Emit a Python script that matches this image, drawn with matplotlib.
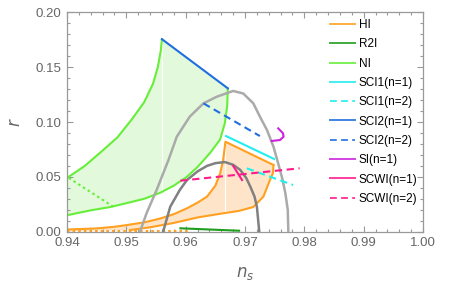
import matplotlib
matplotlib.use("Agg")
import matplotlib.pyplot as plt
from matplotlib.ticker import MultipleLocator, FormatStrFormatter
import numpy as np

plt.rcParams['font.family'] = ['Liberation Sans', 'DejaVu Sans']

# --- данные ---
# NI (зелёная область)
ni_up_x = [0.9400, 0.9430, 0.9460, 0.9485, 0.9510, 0.9530, 0.9545, 0.9553, 0.9558, 0.9560]
ni_up_y = [0.0490, 0.0600, 0.0740, 0.0860, 0.1030, 0.1180, 0.1350, 0.1500, 0.1650, 0.1755]
ni_lo_x = [0.9671, 0.9670, 0.9666, 0.9658, 0.9641, 0.9620, 0.9602, 0.9580, 0.9557, 0.9530, 0.9500, 0.9473, 0.9440, 0.9400]
ni_lo_y = [0.1307, 0.1150, 0.0990, 0.0840, 0.0717, 0.0590, 0.0500, 0.0420, 0.0355, 0.0300, 0.0260, 0.0225, 0.0195, 0.0150]
ni_dot_x = [0.9403, 0.9478]
ni_dot_y = [0.0490, 0.0228]

# HI (оранжевая область)
hi_left_x = [0.9400, 0.9450, 0.9480, 0.9500, 0.9530, 0.9557, 0.9580, 0.9602, 0.9620, 0.9636, 0.9650, 0.9658, 0.9663, 0.9667]
hi_left_y = [0.0020, 0.0030, 0.0045, 0.0060, 0.0085, 0.0120, 0.0160, 0.0213, 0.0265, 0.0320, 0.0420, 0.0530, 0.0650, 0.0820]
hi_right_x = [0.9748, 0.9747, 0.9742, 0.9731, 0.9714, 0.9690, 0.9660, 0.9620, 0.9580, 0.9540, 0.9506]
hi_right_y = [0.0608, 0.0532, 0.0471, 0.0320, 0.0225, 0.0190, 0.0165, 0.0130, 0.0080, 0.0040, 0.0015]
hi_dot_x = [0.9400, 0.9607]
hi_dot_y = [0.0005, 0.0005]

# контуры Planck
gray1_x = [0.9523, 0.9534, 0.9551, 0.9571, 0.9585, 0.9607, 0.9630, 0.9652, 0.9680, 0.9697, 0.9714, 0.9725, 0.9737, 0.9748, 0.9756, 0.9763, 0.9768, 0.9772, 0.9773]
gray1_y = [0.0000, 0.0168, 0.0380, 0.0654, 0.0866, 0.1050, 0.1170, 0.1230, 0.1283, 0.1260, 0.1170, 0.1050, 0.0927, 0.0775, 0.0620, 0.0480, 0.0350, 0.0200, 0.0000]
gray2_x = [0.9562, 0.9574, 0.9590, 0.9602, 0.9620, 0.9636, 0.9650, 0.9666, 0.9680, 0.9692, 0.9702, 0.9709, 0.9716, 0.9720, 0.9724]
gray2_y = [0.0000, 0.0228, 0.0380, 0.0470, 0.0550, 0.0600, 0.0625, 0.0635, 0.0610, 0.0563, 0.0490, 0.0410, 0.0320, 0.0228, 0.0000]

# отдельные модели
r2i_x = [0.9591, 0.9690]
r2i_y = [0.0031, 0.0009]
sci1_n1_x = [0.9668, 0.9749]
sci1_n1_y = [0.0872, 0.0663]
sci1_n2_x = [0.9703, 0.9781]
sci1_n2_y = [0.0578, 0.0426]
sci2_n1_x = [0.9560, 0.9671]
sci2_n1_y = [0.1755, 0.1307]
sci2_n2_x = [0.9630, 0.9725]
sci2_n2_y = [0.1170, 0.0872]
si_x = [0.9756, 0.9764, 0.9765, 0.9759, 0.9745]
si_y = [0.0942, 0.0897, 0.0866, 0.0836, 0.0827]
scwi_n1_x = [0.9680, 0.9695]
scwi_n1_y = [0.0600, 0.0471]
scwi_n2_x = [0.9591, 0.9792]
scwi_n2_y = [0.0465, 0.0578]

# белые артефакты заливки
artifact_x = [0.9560, 0.9667, 0.9750]
artifact_y0 = [0.034, 0.012, 0.020]
artifact_y1 = [0.174, 0.081, 0.060]

c_hi = '#ffa020'
c_r2i = '#1e9e1e'
c_ni = '#66ee3a'
c_cyan = '#22eeee'
c_blue = '#1f6fe0'
c_si = '#cc22dd'
c_scwi = '#ff1a8c'

fig = plt.figure(figsize=(4.66, 2.96), dpi=100)
ax = fig.add_axes([0.1438, 0.2172, 0.7640, 0.7412])

# заливка NI
px = list(ni_up_x) + list(ni_lo_x)
py = list(ni_up_y) + list(ni_lo_y)
ax.fill(px, py, color='#e2fadb', lw=0, zorder=1)
# заливка HI
hx = list(hi_left_x) + list(hi_right_x) + [0.9400]
hy = list(hi_left_y) + list(hi_right_y) + [0.0005]
ax.fill(hx, hy, color='#fee5c9', lw=0, zorder=1)

for x, y0, y1 in zip(artifact_x, artifact_y0, artifact_y1):
    ax.plot([x, x], [y0, y1], color='white', lw=0.8, zorder=1.5)

lw = 1.5
ax.plot(ni_up_x, ni_up_y, color=c_ni, lw=lw, zorder=2)
ax.plot(ni_lo_x, ni_lo_y, color=c_ni, lw=lw, zorder=2)
ax.plot(ni_dot_x, ni_dot_y, color=c_ni, lw=lw, ls=(0, (1.2, 1.5)), zorder=2)

ax.plot(hi_left_x + [hi_right_x[0]], hi_left_y + [hi_right_y[0]], color=c_hi, lw=lw, zorder=2)
ax.plot(hi_right_x, hi_right_y, color=c_hi, lw=lw, zorder=2)
ax.plot(hi_dot_x, hi_dot_y, color=c_hi, lw=lw, ls=(0, (1.2, 1.5)), zorder=2, clip_on=False)

ax.plot(gray1_x, gray1_y, color='#aaaaaa', lw=1.8, zorder=3)
ax.plot(gray2_x, gray2_y, color='#808080', lw=1.8, zorder=3)

dash = (0, (3.5, 2.2))
ax.plot(r2i_x, r2i_y, color=c_r2i, lw=lw, zorder=4)
ax.plot(sci1_n1_x, sci1_n1_y, color=c_cyan, lw=lw, zorder=4)
ax.plot(sci1_n2_x, sci1_n2_y, color=c_cyan, lw=lw, ls=dash, zorder=4)
ax.plot(sci2_n1_x, sci2_n1_y, color=c_blue, lw=lw, zorder=4)
ax.plot(sci2_n2_x, sci2_n2_y, color=c_blue, lw=lw, ls=dash, zorder=4)
ax.plot(si_x, si_y, color=c_si, lw=lw, zorder=4)
ax.plot(scwi_n1_x, scwi_n1_y, color=c_scwi, lw=lw, zorder=4)
ax.plot(scwi_n2_x, scwi_n2_y, color=c_scwi, lw=lw, ls=dash, zorder=4)

# легенда
labels = ['HI', 'R2I', 'NI', 'SCI1(n=1)', 'SCI1(n=2)', 'SCI2(n=1)', 'SCI2(n=2)',
          'SI(n=1)', 'SCWI(n=1)', 'SCWI(n=2)']
colors = [c_hi, c_r2i, c_ni, c_cyan, c_cyan, c_blue, c_blue, c_si, c_scwi, c_scwi]
styles = ['-', '-', '-', '-', dash, '-', dash, '-', '-', dash]
handles = [plt.Line2D([], [], color=c, ls=s, lw=1.4, alpha=0.85) for c, s in zip(colors, styles)]
fig.legend(handles, labels, loc='upper left', bbox_to_anchor=(330 / 466, 1 - 19 / 296),
           frameon=False, fontsize=8.5, handlelength=2.1, handletextpad=0.35,
           labelspacing=0.62, borderpad=0, borderaxespad=0)

ax.set_xlim(0.94, 1.00)
ax.set_ylim(0.0, 0.20)
ax.xaxis.set_major_locator(MultipleLocator(0.01))
ax.xaxis.set_minor_locator(MultipleLocator(0.002))
ax.yaxis.set_major_locator(MultipleLocator(0.05))
ax.yaxis.set_minor_locator(MultipleLocator(0.01))
ax.xaxis.set_major_formatter(FormatStrFormatter('%.2f'))
ax.yaxis.set_major_formatter(FormatStrFormatter('%.2f'))
ax.tick_params(which='both', direction='in', top=True, right=True, color='#999999',
               labelcolor='#666666', labelsize=9.5, width=0.8)
ax.tick_params(which='major', length=4.5, pad=4)
ax.tick_params(which='minor', length=2.5)
for s in ax.spines.values():
    s.set_color('#999999')
    s.set_linewidth(0.9)

ax.set_xlabel('$n_s$', fontsize=12, color='#666666', labelpad=11)
ax.set_ylabel('$r$', fontsize=12, color='#666666')
ax.yaxis.set_label_coords(-0.125, 0.5)

fig.savefig('out.png', dpi=100)
